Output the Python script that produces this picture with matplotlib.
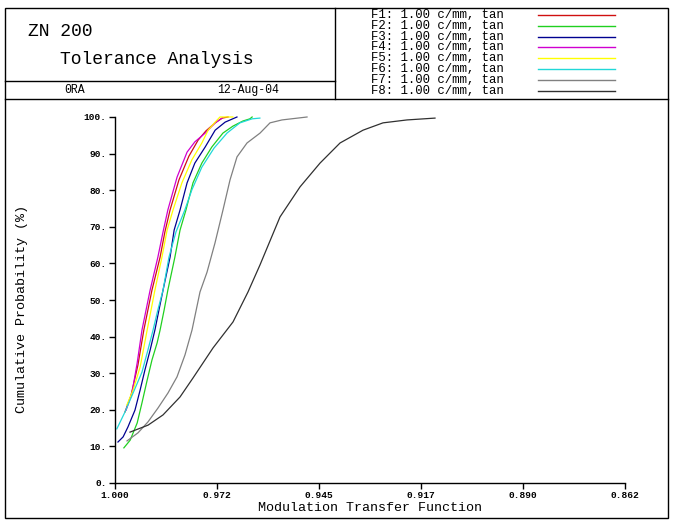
import matplotlib
matplotlib.use("Agg")
import matplotlib.pyplot as plt
from matplotlib.patches import Rectangle

# values (MTF, cumulative probability %)
f1_mtf = [0.9973, 0.9957, 0.9938, 0.9922, 0.9900, 0.9878, 0.9865, 0.9851, 0.9827, 0.9800, 0.9775, 0.9754, 0.9729, 0.9710, 0.9694]
f1_prob = [19.4, 23.8, 32.2, 41.8, 52.7, 61.7, 68.6, 74.6, 82.8, 89.3, 93.7, 96.2, 98.4, 99.7, 100.0]

f2_mtf = [0.9976, 0.9959, 0.9940, 0.9927, 0.9913, 0.9900, 0.9886, 0.9878, 0.9867, 0.9857, 0.9838, 0.9824, 0.9808, 0.9789, 0.9765, 0.9738, 0.9708, 0.9681, 0.9654, 0.9635, 0.9629]
f2_prob = [9.6, 11.7, 16.4, 21.9, 28.1, 33.6, 38.3, 41.8, 47.3, 52.7, 61.7, 69.1, 74.6, 82.0, 87.4, 91.8, 95.6, 97.5, 98.9, 99.5, 100.0]

f3_mtf = [0.9992, 0.9978, 0.9965, 0.9946, 0.9932, 0.9919, 0.9905, 0.9892, 0.9881, 0.9870, 0.9851, 0.9840, 0.9824, 0.9805, 0.9784, 0.9756, 0.9729, 0.9702, 0.9670]
f3_prob = [11.2, 12.6, 15.3, 19.9, 25.4, 30.9, 36.3, 41.8, 47.3, 52.7, 61.7, 69.1, 74.6, 82.0, 87.4, 91.8, 96.4, 98.6, 100.0]

f4_mtf = [0.9970, 0.9954, 0.9940, 0.9927, 0.9905, 0.9884, 0.9870, 0.9857, 0.9832, 0.9805, 0.9784, 0.9756, 0.9729, 0.9710]
f4_prob = [19.9, 24.6, 32.8, 41.8, 52.7, 61.7, 68.6, 74.6, 83.6, 90.4, 93.2, 95.6, 98.4, 99.7]

f5_mtf = [0.9968, 0.9951, 0.9932, 0.9913, 0.9892, 0.9873, 0.9859, 0.9843, 0.9819, 0.9792, 0.9765, 0.9748, 0.9729, 0.9716, 0.9681]
f5_prob = [21.3, 25.4, 31.7, 41.8, 52.7, 61.7, 69.1, 74.6, 82.0, 88.3, 92.9, 96.4, 98.6, 100.0, 100.0]

f6_mtf = [0.9995, 0.9973, 0.9951, 0.9927, 0.9911, 0.9897, 0.9884, 0.9870, 0.9854, 0.9835, 0.9811, 0.9792, 0.9765, 0.9732, 0.9697, 0.9662, 0.9629, 0.9608]
f6_prob = [14.8, 19.4, 24.6, 30.3, 36.3, 41.8, 47.3, 52.7, 61.7, 68.6, 74.6, 80.1, 86.3, 91.5, 95.6, 98.4, 99.5, 99.7]

f7_mtf = [0.99675, 0.99378, 0.99107, 0.98836, 0.98566, 0.98322, 0.98106, 0.97916, 0.97700, 0.97510, 0.97294, 0.97078, 0.96888, 0.96699, 0.96428, 0.96076, 0.95806, 0.95481, 0.94804]
f7_prob = [11.5, 13.7, 16.7, 20.5, 24.6, 29.0, 35.0, 41.8, 52.2, 57.6, 65.6, 74.6, 82.8, 89.1, 92.9, 95.6, 98.4, 99.2, 100.0]

f8_mtf = [0.99594, 0.99107, 0.98701, 0.98241, 0.97889, 0.97348, 0.96807, 0.96401, 0.96076, 0.95535, 0.94994, 0.94453, 0.93911, 0.93289, 0.92748, 0.92098, 0.91341]
f8_prob = [13.9, 15.8, 18.6, 23.5, 28.7, 36.9, 44.0, 52.2, 59.6, 72.7, 80.9, 87.4, 92.9, 96.4, 98.4, 99.2, 99.7]

series = [(f1_mtf, f1_prob), (f2_mtf, f2_prob), (f3_mtf, f3_prob), (f4_mtf, f4_prob),
          (f5_mtf, f5_prob), (f6_mtf, f6_prob), (f7_mtf, f7_prob), (f8_mtf, f8_prob)]
labels = ["F%d: 1.00 c/mm, tan" % (i + 1) for i in range(8)]
colors = ["#d01010", "#20d020", "#000090", "#d000d0", "#ffff00", "#20d8d8", "#808080", "#303030"]

x_ticks = [1.000, 0.9724, 0.9448, 0.9172, 0.8896, 0.862]
y_ticks = [0, 10, 20, 30, 40, 50, 60, 70, 80, 90, 100]

mono = "Liberation Mono"
W, H = 681, 527

fig = plt.figure(figsize=(W / 100, H / 100), dpi=100)

# main plot axes
ax = fig.add_axes([115 / W, (H - 483) / H, 510 / W, 366 / H])
for (xs, ys), c in zip(series, colors):
    ax.plot(xs, ys, color=c, linewidth=0.9, clip_on=False)
ax.set_xlim(1.0, 0.862)
ax.set_ylim(0, 100)
ax.spines['top'].set_visible(False)
ax.spines['right'].set_visible(False)
ax.spines['left'].set_linewidth(1.0)
ax.spines['bottom'].set_linewidth(1.0)
ax.set_xticks(x_ticks)
ax.set_xticklabels(["%.3f" % v for v in x_ticks], fontfamily=mono, fontsize=6.8, fontweight='bold')
ax.set_yticks(y_ticks)
ax.set_yticklabels(["%d." % v for v in y_ticks], fontfamily=mono, fontsize=6.8, fontweight='bold')
ax.tick_params(direction='out', length=4, width=1, pad=2)
ax.set_xlabel("Modulation Transfer Function", fontfamily=mono, fontsize=9.6, labelpad=1)
ax.set_ylabel("Cumulative Probability (%)", fontfamily=mono, fontsize=9.6)
ax.yaxis.set_label_coords((28 - 115) / 510, (483 - 309) / 366)
ax.patch.set_alpha(0)

# overlay in pixel coordinates for frames and header
ov = fig.add_axes([0, 0, 1, 1], zorder=-1)
ov.set_xlim(0, W)
ov.set_ylim(H, 0)
ov.axis('off')
ov.add_patch(Rectangle((5, 8), 663, 510, fill=False, edgecolor='black', linewidth=1))
ov.plot([5, 668], [99, 99], color='black', linewidth=1)
ov.plot([335, 335], [8, 99], color='black', linewidth=1)
ov.plot([5, 335], [81, 81], color='black', linewidth=1)

ov.text(28, 32, "ZN 200", fontfamily=mono, fontsize=13, va='center', ha='left')
ov.text(60, 60, "Tolerance Analysis", fontfamily=mono, fontsize=13, va='center', ha='left')
ov.text(64, 90, "0RA", fontfamily=mono, fontsize=8.3, va='center', ha='left')
ov.text(217, 90, "12-Aug-04", fontfamily=mono, fontsize=8.3, va='center', ha='left')

for i, (lab, c) in enumerate(zip(labels, colors)):
    yy = 15 + i * 10.8
    ov.text(371, yy, lab, fontfamily=mono, fontsize=8.9, va='center', ha='left')
    ov.plot([538, 615], [yy, yy], color=c, linewidth=1)

fig.savefig("out.png", dpi=100)
